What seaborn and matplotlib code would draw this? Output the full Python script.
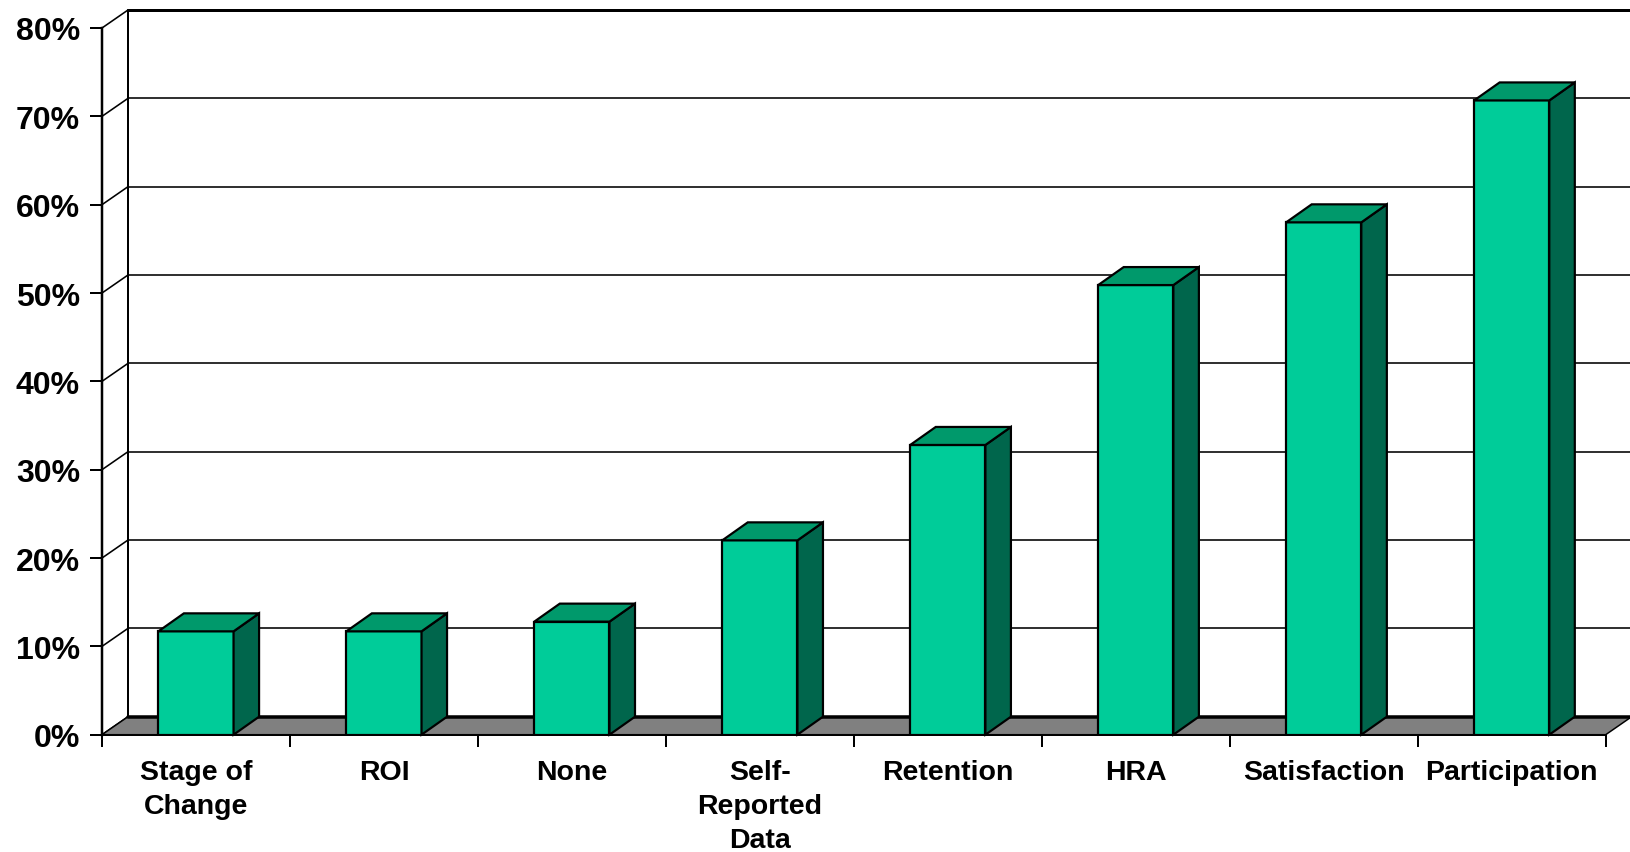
import matplotlib
matplotlib.use("Agg")
import matplotlib.pyplot as plt
import seaborn as sns
import pandas as pd
from matplotlib.patches import Polygon
from matplotlib.lines import Line2D

# Measures reported and share of programs using each
categories = ["Stage of\nChange", "ROI", "None", "Self-\nReported\nData",
              "Retention", "HRA", "Satisfaction", "Participation"]
values = [11.7, 11.7, 12.8, 22.0, 32.8, 50.9, 58.0, 71.8]
y_ticks = [0, 10, 20, 30, 40, 50, 60, 70, 80]
y_tick_labels = [f"{v}%" for v in y_ticks]

FRONT = "#00CC99"
TOP = "#00996B"
SIDE = "#00664C"
FLOOR = "#808080"

sns.set_theme(style="white")
plt.rcParams["font.family"] = ["Liberation Sans", "DejaVu Sans"]
plt.rcParams["font.weight"] = "bold"

W, H = 1631, 853
fig = plt.figure(figsize=(W / 100, H / 100), dpi=100)
fig.patch.set_facecolor("white")

# Front plane of the pseudo-3D chart, placed in pixel terms
left_px, right_px = 102.0, 1605.7
bottom_px, top_px = 735.7, 29.0
ax = fig.add_axes([left_px / W, 1 - bottom_px / H,
                   (right_px - left_px) / W, (bottom_px - top_px) / H])
ax.patch.set_alpha(0)

n = len(categories)
px_per_x = (right_px - left_px) / n
px_per_y = (bottom_px - top_px) / 80.0

# depth offsets (right/up) for the walls and for the bars
wall_dx, wall_dy = 26 / px_per_x, 18 / px_per_y
bar_dx, bar_dy = 25.5 / px_per_x, 18 / px_per_y

def pt(px):
    return px * 0.72

df = pd.DataFrame({"category": categories, "value": values})
sns.barplot(data=df, x="category", y="value", width=0.4, color=FRONT,
            saturation=1, edgecolor="black", linewidth=pt(2.2), ax=ax, zorder=3)

ax.set_xlim(-0.5, n - 0.5)
ax.set_ylim(0, 80)
ax.set_xlabel("")
ax.set_ylabel("")

x0w, x1w = -0.5, n - 0.5

# back wall gridlines and left-wall diagonals
for v in y_ticks:
    ax.add_line(Line2D([x0w, x0w + wall_dx], [v, v + wall_dy], color="black",
                       lw=pt(1.6), zorder=1, clip_on=False))
    if 0 < v < 80:
        ax.add_line(Line2D([x0w + wall_dx, x1w + wall_dx], [v + wall_dy, v + wall_dy],
                           color="black", lw=pt(1.6), zorder=1, clip_on=False))
# back wall outline
ax.add_line(Line2D([x0w + wall_dx, x1w + wall_dx], [80 + wall_dy, 80 + wall_dy],
                   color="black", lw=pt(3), zorder=1, clip_on=False))
ax.add_line(Line2D([x0w + wall_dx, x0w + wall_dx], [wall_dy, 80 + wall_dy],
                   color="black", lw=pt(2), zorder=1, clip_on=False))
ax.add_line(Line2D([x1w + wall_dx, x1w + wall_dx], [wall_dy, 80 + wall_dy],
                   color="#888888", lw=pt(1.5), zorder=1, clip_on=False))

# floor
floor = Polygon([(x0w, 0), (x1w, 0), (x1w + wall_dx, wall_dy), (x0w + wall_dx, wall_dy)],
                closed=True, facecolor=FLOOR, edgecolor="black", lw=pt(1.5),
                zorder=2, clip_on=False)
ax.add_patch(floor)
ax.add_line(Line2D([x0w + wall_dx, x1w + wall_dx], [wall_dy, wall_dy],
                   color="black", lw=pt(3.5), zorder=2.1, clip_on=False))

# top and side faces of each bar
for bar in list(ax.patches):
    if bar is floor:
        continue
    x = bar.get_x()
    w = bar.get_width()
    h = bar.get_height()
    top = Polygon([(x, h), (x + w, h), (x + w + bar_dx, h + bar_dy), (x + bar_dx, h + bar_dy)],
                  closed=True, facecolor=TOP, edgecolor="black", lw=pt(2.2),
                  zorder=3, clip_on=False)
    side = Polygon([(x + w, 0), (x + w + bar_dx, bar_dy), (x + w + bar_dx, h + bar_dy), (x + w, h)],
                   closed=True, facecolor=SIDE, edgecolor="black", lw=pt(2.2),
                   zorder=3, clip_on=False)
    ax.add_patch(side)
    ax.add_patch(top)

# axes, ticks and labels
for s in ["top", "right"]:
    ax.spines[s].set_visible(False)
ax.spines["left"].set_linewidth(pt(2.5))
ax.spines["left"].set_color("black")
ax.spines["bottom"].set_linewidth(pt(2))
ax.spines["bottom"].set_color("black")
ax.spines["bottom"].set_zorder(2.2)

ax.set_yticks(y_ticks)
ax.set_yticklabels(y_tick_labels, fontsize=23, fontweight="bold")
ax.tick_params(axis="y", direction="out", length=pt(12), width=pt(2), pad=pt(10),
               colors="black", left=True)

ax.set_xticks(range(n))
ax.set_xticklabels(categories, fontsize=20.5, fontweight="bold", linespacing=1.42)
ax.set_xticks([i - 0.5 for i in range(n + 1)], minor=True)
ax.tick_params(axis="x", which="major", length=0, pad=pt(24), colors="black")
ax.tick_params(axis="x", which="minor", direction="out", length=pt(12), width=pt(2),
               colors="black", bottom=True)
ax.grid(False)

fig.savefig("out.png", dpi=100, facecolor="white")
